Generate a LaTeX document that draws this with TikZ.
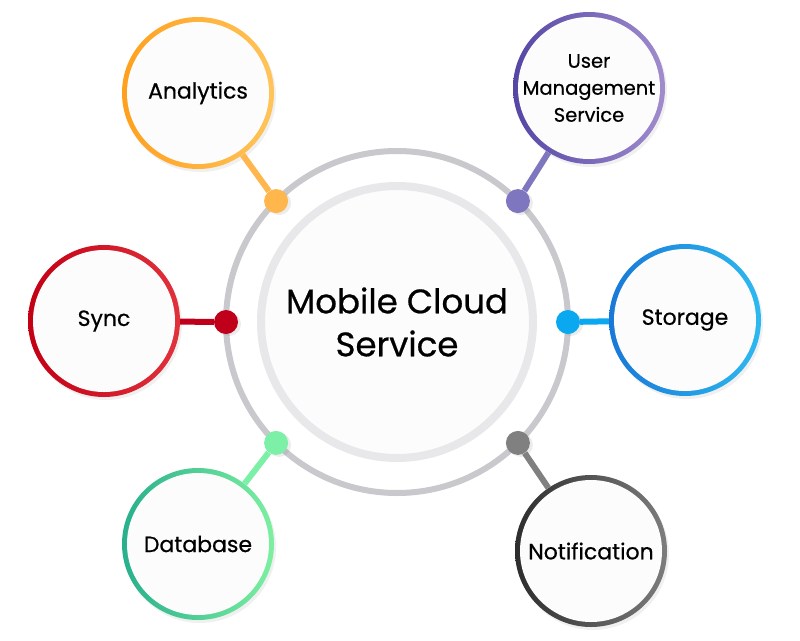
\documentclass[tikz,border=0pt]{standalone}
\usepackage{fontspec}
\setmainfont{Poppins}[FakeBold=0.6]
\usepackage{xcolor}
\usetikzlibrary{shadows}
\definecolor{ringgray}{RGB}{200, 200, 205}
\definecolor{innergray}{RGB}{232, 232, 235}
\definecolor{fillgray}{RGB}{252, 252, 252}
\definecolor{analyticsdark}{RGB}{255, 160, 30}
\definecolor{analyticslight}{RGB}{255, 196, 90}
\definecolor{analyticsdot}{RGB}{255, 183, 77}
\definecolor{userdark}{RGB}{85, 70, 165}
\definecolor{userlight}{RGB}{160, 140, 205}
\definecolor{userdot}{RGB}{126, 118, 191}
\definecolor{syncdark}{RGB}{195, 0, 20}
\definecolor{synclight}{RGB}{225, 50, 60}
\definecolor{syncdot}{RGB}{192, 0, 26}
\definecolor{storagedark}{RGB}{25, 120, 215}
\definecolor{storagelight}{RGB}{45, 185, 240}
\definecolor{storagedot}{RGB}{10, 168, 238}
\definecolor{dbdark}{RGB}{40, 175, 140}
\definecolor{dblight}{RGB}{125, 240, 160}
\definecolor{dbdot}{RGB}{125, 240, 168}
\definecolor{notifdark}{RGB}{45, 45, 45}
\definecolor{notiflight}{RGB}{125, 125, 125}
\definecolor{notifdot}{RGB}{128, 128, 128}

\begin{document}
\begin{tikzpicture}[x=1pt, y=-1pt,
  satellite/.style 2 args={circle, minimum size=152pt, inner sep=0pt, align=center,
    font=\fontsize{22}{27}\selectfont, shading angle=-45, left color=#1, right color=#2,
    drop shadow={opacity=0.12, shadow xshift=2pt, shadow yshift=-3pt},
    path picture={\fill[fillgray] (path picture bounding box.center) circle (71pt);}},
  ringdot/.style={circle, fill=#1, minimum size=24pt, inner sep=0pt,
    drop shadow={opacity=0.15, shadow xshift=3pt, shadow yshift=-2pt}},
  link/.style={line width=6pt, draw=#1}]
\useasboundingbox (0,0) rectangle (800,640);

% Hub: outer ring and inner disc
\node[circle, minimum size=342pt, outer sep=0pt, draw=ringgray, line width=6pt, fill=white] (ring) at (397,322) {};
\node[circle, minimum size=272pt, draw=innergray, line width=8pt, fill=fillgray, align=center,
  font=\fontsize{34}{43}\selectfont] (mcs) at (397,322) {Mobile Cloud\\Service};

% Satellites
\node[satellite={analyticsdark}{analyticslight}] (analytics) at (198,93) {Analytics};
\node[satellite={userdark}{userlight}, font=\fontsize{19.5}{27}\selectfont] (usermgmt) at (589,88) {User\\Management\\Service};
\node[satellite={syncdark}{synclight}] (sync) at (104,321) {Sync};
\node[satellite={storagedark}{storagelight}] (storage) at (685,320) {Storage};
\node[satellite={dbdark}{dblight}] (database) at (198,544) {Database};
\node[satellite={notifdark}{notiflight}] (notification) at (591,551) {Notification};

% Dots on the ring
\node[ringdot=analyticsdot] (adot) at (ring.135) {};
\node[ringdot=userdot] (udot) at (ring.45) {};
\node[ringdot=syncdot] (sdot) at (ring.180) {};
\node[ringdot=storagedot] (stdot) at (ring.0) {};
\node[ringdot=dbdot] (ddot) at (ring.225) {};
\node[ringdot=notifdot] (ndot) at (ring.315) {};

% Connectors
\draw[link=analyticsdot] (adot) -- (analytics);
\draw[link=userdot] (udot) -- (usermgmt);
\draw[link=syncdot] (sdot) -- (sync);
\draw[link=storagedot] (stdot) -- (storage);
\draw[link=dbdot] (ddot) -- (database);
\draw[link=notifdot] (ndot) -- (notification);
\end{tikzpicture}
\end{document}
